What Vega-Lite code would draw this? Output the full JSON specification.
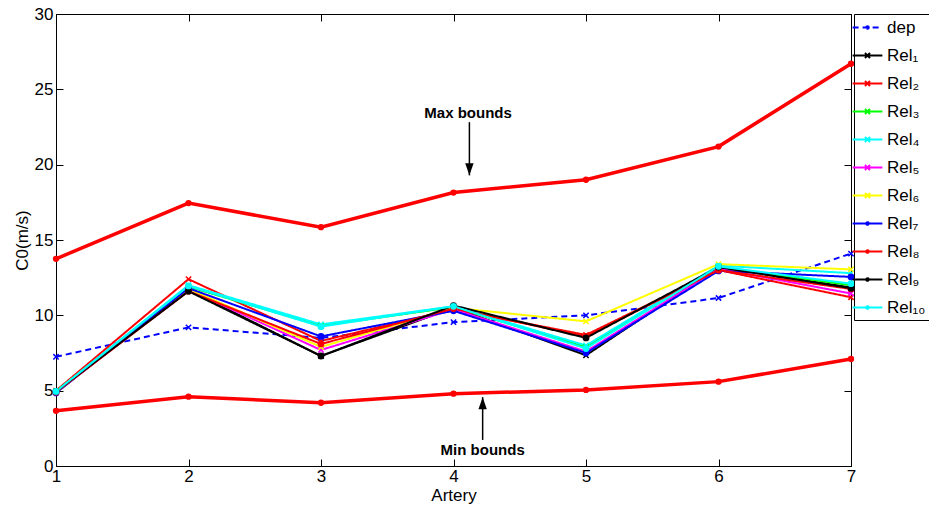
{
  "$schema": "https://vega.github.io/schema/vega-lite/v6.json",
  "width": 795,
  "height": 452,
  "autosize": {"type": "none"},
  "padding": {"left": 56, "top": 14, "right": 78, "bottom": 41},
  "background": "white",
  "config": {
    "view": {"stroke": "black", "strokeWidth": 1},
    "font": "Liberation Sans",
    "axis": {
      "labelFont": "Liberation Sans", "labelFontSize": 17, "labelColor": "black",
      "titleFont": "Liberation Sans", "titleFontSize": 17, "titleFontWeight": "normal", "titleColor": "black",
      "domainColor": "black", "tickColor": "black", "grid": false, "tickSize": -7, "labelFlush": false
    }
  },
  "datasets": {
    "curves": [
      {"series": "dep", "artery": 1, "c0": 7.25}, {"series": "dep", "artery": 2, "c0": 9.2}, {"series": "dep", "artery": 3, "c0": 8.5}, {"series": "dep", "artery": 4, "c0": 9.55}, {"series": "dep", "artery": 5, "c0": 10.0}, {"series": "dep", "artery": 6, "c0": 11.15}, {"series": "dep", "artery": 7, "c0": 14.1},
      {"series": "Rel₁", "artery": 1, "c0": 4.95}, {"series": "Rel₁", "artery": 2, "c0": 11.7}, {"series": "Rel₁", "artery": 3, "c0": 7.3}, {"series": "Rel₁", "artery": 4, "c0": 10.5}, {"series": "Rel₁", "artery": 5, "c0": 7.35}, {"series": "Rel₁", "artery": 6, "c0": 13.2}, {"series": "Rel₁", "artery": 7, "c0": 11.85},
      {"series": "Rel₂", "artery": 1, "c0": 5.0}, {"series": "Rel₂", "artery": 2, "c0": 12.4}, {"series": "Rel₂", "artery": 3, "c0": 8.3}, {"series": "Rel₂", "artery": 4, "c0": 10.4}, {"series": "Rel₂", "artery": 5, "c0": 8.7}, {"series": "Rel₂", "artery": 6, "c0": 13.0}, {"series": "Rel₂", "artery": 7, "c0": 11.2},
      {"series": "Rel₃", "artery": 1, "c0": 4.95}, {"series": "Rel₃", "artery": 2, "c0": 11.9}, {"series": "Rel₃", "artery": 3, "c0": 9.3}, {"series": "Rel₃", "artery": 4, "c0": 10.55}, {"series": "Rel₃", "artery": 5, "c0": 7.9}, {"series": "Rel₃", "artery": 6, "c0": 13.2}, {"series": "Rel₃", "artery": 7, "c0": 12.0},
      {"series": "Rel₄", "artery": 1, "c0": 4.95}, {"series": "Rel₄", "artery": 2, "c0": 12.0}, {"series": "Rel₄", "artery": 3, "c0": 9.4}, {"series": "Rel₄", "artery": 4, "c0": 10.6}, {"series": "Rel₄", "artery": 5, "c0": 8.0}, {"series": "Rel₄", "artery": 6, "c0": 13.3}, {"series": "Rel₄", "artery": 7, "c0": 12.8},
      {"series": "Rel₅", "artery": 1, "c0": 4.9}, {"series": "Rel₅", "artery": 2, "c0": 11.7}, {"series": "Rel₅", "artery": 3, "c0": 7.7}, {"series": "Rel₅", "artery": 4, "c0": 10.4}, {"series": "Rel₅", "artery": 5, "c0": 7.6}, {"series": "Rel₅", "artery": 6, "c0": 13.1}, {"series": "Rel₅", "artery": 7, "c0": 11.45},
      {"series": "Rel₆", "artery": 1, "c0": 4.95}, {"series": "Rel₆", "artery": 2, "c0": 11.75}, {"series": "Rel₆", "artery": 3, "c0": 7.9}, {"series": "Rel₆", "artery": 4, "c0": 10.5}, {"series": "Rel₆", "artery": 5, "c0": 9.6}, {"series": "Rel₆", "artery": 6, "c0": 13.4}, {"series": "Rel₆", "artery": 7, "c0": 13.05},
      {"series": "Rel₇", "artery": 1, "c0": 4.85}, {"series": "Rel₇", "artery": 2, "c0": 11.8}, {"series": "Rel₇", "artery": 3, "c0": 8.6}, {"series": "Rel₇", "artery": 4, "c0": 10.3}, {"series": "Rel₇", "artery": 5, "c0": 7.5}, {"series": "Rel₇", "artery": 6, "c0": 12.95}, {"series": "Rel₇", "artery": 7, "c0": 12.55},
      {"series": "Rel₈", "artery": 1, "c0": 4.9}, {"series": "Rel₈", "artery": 2, "c0": 11.6}, {"series": "Rel₈", "artery": 3, "c0": 8.1}, {"series": "Rel₈", "artery": 4, "c0": 10.45}, {"series": "Rel₈", "artery": 5, "c0": 8.6}, {"series": "Rel₈", "artery": 6, "c0": 13.0}, {"series": "Rel₈", "artery": 7, "c0": 11.75},
      {"series": "Rel₉", "artery": 1, "c0": 4.95}, {"series": "Rel₉", "artery": 2, "c0": 11.6}, {"series": "Rel₉", "artery": 3, "c0": 7.3}, {"series": "Rel₉", "artery": 4, "c0": 10.65}, {"series": "Rel₉", "artery": 5, "c0": 8.5}, {"series": "Rel₉", "artery": 6, "c0": 13.2}, {"series": "Rel₉", "artery": 7, "c0": 11.8},
      {"series": "Rel₁₀", "artery": 1, "c0": 4.95}, {"series": "Rel₁₀", "artery": 2, "c0": 11.95}, {"series": "Rel₁₀", "artery": 3, "c0": 9.25}, {"series": "Rel₁₀", "artery": 4, "c0": 10.6}, {"series": "Rel₁₀", "artery": 5, "c0": 7.8}, {"series": "Rel₁₀", "artery": 6, "c0": 13.25}, {"series": "Rel₁₀", "artery": 7, "c0": 12.1}
    ],
    "bounds": [
      {"series": "max", "artery": 1, "c0": 13.75}, {"series": "max", "artery": 2, "c0": 17.45}, {"series": "max", "artery": 3, "c0": 15.85}, {"series": "max", "artery": 4, "c0": 18.15}, {"series": "max", "artery": 5, "c0": 19.0}, {"series": "max", "artery": 6, "c0": 21.2}, {"series": "max", "artery": 7, "c0": 26.7},
      {"series": "min", "artery": 1, "c0": 3.66}, {"series": "min", "artery": 2, "c0": 4.6}, {"series": "min", "artery": 3, "c0": 4.2}, {"series": "min", "artery": 4, "c0": 4.8}, {"series": "min", "artery": 5, "c0": 5.05}, {"series": "min", "artery": 6, "c0": 5.6}, {"series": "min", "artery": 7, "c0": 7.1}
    ],
    "arrows": [
      {"label": "Max bounds", "artery": 4.12, "c0": 22.82, "c0end": 19.29, "dir": "down", "labelx": 4.11, "labely": 23.42},
      {"label": "Min bounds", "artery": 4.22, "c0": 1.73, "c0end": 4.57, "dir": "up", "labelx": 4.22, "labely": 1.06}
    ]
  },
  "layer": [
    {
      "data": {"name": "curves"},
      "mark": {"type": "line", "strokeWidth": 2},
      "encoding": {
        "x": {"field": "artery", "type": "quantitative", "scale": {"domain": [1, 7], "nice": false, "zero": false},
              "axis": {"orient": "bottom", "title": "Artery", "values": [1, 2, 3, 4, 5, 6, 7], "format": "d", "labelPadding": 9, "titlePadding": 3}},
        "y": {"field": "c0", "type": "quantitative", "scale": {"domain": [0, 30], "nice": false},
              "axis": {"orient": "left", "title": "C0(m/s)", "values": [0, 5, 10, 15, 20, 25, 30], "labelPadding": 10, "titlePadding": 3}},
        "color": {"field": "series", "type": "nominal",
          "scale": {"domain": ["dep", "Rel₁", "Rel₂", "Rel₃", "Rel₄", "Rel₅", "Rel₆", "Rel₇", "Rel₈", "Rel₉", "Rel₁₀"],
                    "range": ["#0000ff", "#000000", "#ff0000", "#00ff00", "#00ffff", "#ff00ff", "#ffff00", "#0000ff", "#ff0000", "#000000", "#00ffff"]},
          "legend": {"orient": "none", "legendX": 798, "legendY": 0, "title": null, "strokeColor": "black", "fillColor": "white",
                     "padding": 4, "labelFont": "Liberation Sans", "labelFontSize": 17, "labelColor": "black", "labelLimit": 200,
                     "symbolType": "M-1.75,0H1.75", "symbolSize": 289, "symbolStrokeWidth": 2, "rowPadding": 10, "labelOffset": 10,
                     "encode": {"symbols": {"update": {
                        "shape": {"signal": "datum.value === 'dep' || datum.value === 'Rel₇' || datum.value === 'Rel₈' || datum.value === 'Rel₉' || datum.value === 'Rel₁₀' ? 'M-1.75,0H1.75M-0.15,0A0.15,0.15,0,1,1,0.15,0A0.15,0.15,0,1,1,-0.15,0' : 'M-1.75,0H1.75M-0.3,-0.3L0.3,0.3M-0.3,0.3L0.3,-0.3'"},
                        "strokeDash": {"signal": "datum.value === 'dep' ? [5, 3] : [1, 0]"}
                     }}}}
        },
        "strokeDash": {"field": "series", "type": "nominal",
          "scale": {"domain": ["dep", "Rel₁", "Rel₂", "Rel₃", "Rel₄", "Rel₅", "Rel₆", "Rel₇", "Rel₈", "Rel₉", "Rel₁₀"],
                    "range": [[6, 4], [1, 0], [1, 0], [1, 0], [1, 0], [1, 0], [1, 0], [1, 0], [1, 0], [1, 0], [1, 0]]},
          "legend": null}
      }
    },
    {
      "data": {"name": "curves"},
      "mark": {"type": "point", "strokeWidth": 1.5, "opacity": 1, "size": 28},
      "encoding": {
        "x": {"field": "artery", "type": "quantitative", "axis": null},
        "y": {"field": "c0", "type": "quantitative", "axis": null},
        "shape": {"field": "series", "type": "nominal",
          "scale": {"domain": ["dep", "Rel₁", "Rel₂", "Rel₃", "Rel₄", "Rel₅", "Rel₆", "Rel₇", "Rel₈", "Rel₉", "Rel₁₀"],
                    "range": ["M-1,-1L1,1M-1,1L1,-1", "M-1,-1L1,1M-1,1L1,-1", "M-1,-1L1,1M-1,1L1,-1", "M-1,-1L1,1M-1,1L1,-1", "M-1,-1L1,1M-1,1L1,-1", "M-1,-1L1,1M-1,1L1,-1", "M-1,-1L1,1M-1,1L1,-1", "circle", "circle", "circle", "circle"]},
          "legend": null},
        "stroke": {"field": "series", "type": "nominal",
          "scale": {"domain": ["dep", "Rel₁", "Rel₂", "Rel₃", "Rel₄", "Rel₅", "Rel₆", "Rel₇", "Rel₈", "Rel₉", "Rel₁₀"],
                    "range": ["#0000ff", "#000000", "#ff0000", "#00ff00", "#00ffff", "#ff00ff", "#ffff00", "#0000ff", "#ff0000", "#000000", "#00ffff"]},
          "legend": null},
        "fill": {"field": "series", "type": "nominal",
          "scale": {"domain": ["dep", "Rel₁", "Rel₂", "Rel₃", "Rel₄", "Rel₅", "Rel₆", "Rel₇", "Rel₈", "Rel₉", "Rel₁₀"],
                    "range": ["#0000ff", "#000000", "#ff0000", "#00ff00", "#00ffff", "#ff00ff", "#ffff00", "#0000ff", "#ff0000", "#000000", "#00ffff"]},
          "legend": null}
      }
    },
    {
      "data": {"name": "bounds"},
      "mark": {"type": "line", "strokeWidth": 3.5, "color": "#ff0000"},
      "encoding": {
        "x": {"field": "artery", "type": "quantitative",
              "axis": {"orient": "top", "labels": false, "title": null, "values": [1, 2, 3, 4, 5, 6, 7]}},
        "y": {"field": "c0", "type": "quantitative",
              "axis": {"orient": "right", "labels": false, "title": null, "values": [0, 5, 10, 15, 20, 25, 30]}},
        "detail": {"field": "series", "type": "nominal"}
      }
    },
    {
      "data": {"name": "bounds"},
      "mark": {"type": "point", "filled": true, "color": "#ff0000", "size": 40, "opacity": 1},
      "encoding": {
        "x": {"field": "artery", "type": "quantitative", "axis": null},
        "y": {"field": "c0", "type": "quantitative", "axis": null}
      }
    },
    {
      "data": {"name": "arrows"},
      "mark": {"type": "rule", "color": "black", "strokeWidth": 1.5},
      "encoding": {
        "x": {"field": "artery", "type": "quantitative", "axis": null},
        "y": {"field": "c0", "type": "quantitative", "axis": null},
        "y2": {"field": "c0end"}
      }
    },
    {
      "data": {"name": "arrows"},
      "mark": {"type": "point", "filled": true, "color": "black", "size": 144, "opacity": 1, "strokeWidth": 0},
      "encoding": {
        "x": {"field": "artery", "type": "quantitative", "axis": null},
        "y": {"field": "c0end", "type": "quantitative", "axis": null},
        "shape": {"field": "dir", "type": "nominal",
          "scale": {"domain": ["down", "up"], "range": ["M0,0L-0.7,-2L0.7,-2Z", "M0,0L-0.7,2L0.7,2Z"]},
          "legend": null}
      }
    },
    {
      "data": {"name": "arrows"},
      "mark": {"type": "text", "font": "Liberation Sans", "fontSize": 15, "fontWeight": "bold", "color": "black", "align": "center", "baseline": "middle"},
      "encoding": {
        "x": {"field": "labelx", "type": "quantitative", "axis": null},
        "y": {"field": "labely", "type": "quantitative", "axis": null},
        "text": {"field": "label"}
      }
    }
  ],
  "resolve": {"axis": {"x": "independent", "y": "independent"}, "scale": {"shape": "independent"}}
}
